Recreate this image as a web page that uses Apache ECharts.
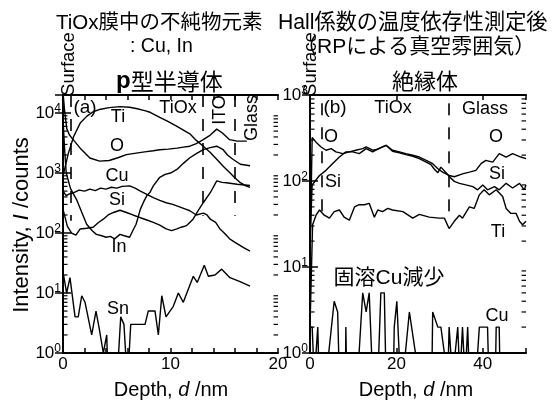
<!DOCTYPE html>
<html><head><meta charset="utf-8">
<script src="https://cdn.jsdelivr.net/npm/echarts@6/dist/echarts.min.js"></script>
<style>html,body{margin:0;padding:0;background:#fff}#c{width:555px;height:402px}</style>
</head><body><div id="c"></div>
<script>
// ---------- Panel (a): p-type semiconductor, depth 0-20 nm ----------
const tiA_d = [0, 0.5, 1.0, 1.6, 2.2, 2.8, 3.5, 4.3, 5.3, 6.2, 6.9, 7.6, 8.1, 9.0, 9.8, 10.6, 11.2, 11.8, 12.4, 13.05, 13.7, 14.3, 14.9, 15.5, 16.0, 16.5, 17.0, 17.4];
const tiA_v = [890, 2150, 4100, 6800, 8800, 10500, 11600, 12300, 12800, 12500, 11800, 11000, 10300, 8500, 7200, 6000, 5200, 4500, 3500, 2800, 2200, 1700, 1300, 1020, 830, 690, 610, 575];
const oA_d = [0, 0.15, 0.35, 0.6, 1.0, 1.6, 2.5, 3.4, 4.3, 5.1, 5.9, 6.8, 7.6, 8.4, 9.0, 9.8, 10.6, 11.2, 11.8, 12.4, 13.05, 13.7, 14.3, 14.8, 15.5, 16.2, 17.1];
const oA_v = [22000, 11000, 5500, 4300, 3500, 2600, 1780, 1580, 1620, 1800, 2030, 2150, 2250, 2350, 2450, 2500, 2600, 2700, 2800, 3100, 3600, 4300, 5400, 4700, 3600, 3400, 3400];
const inA_d = [0, 0.15, 0.3, 0.7, 1.3, 1.8, 2.2, 2.7, 3.1, 3.6, 4.0, 4.4, 4.8, 5.3, 5.7, 6.2, 6.5, 6.8, 7.2, 7.5, 7.8, 8.1, 8.4, 9.0, 9.5, 10.0, 10.6, 11.2, 11.8, 12.4, 13.05, 13.7, 14.3, 14.9, 15.3, 15.8, 16.5, 17.4];
const inA_v = [8000, 2500, 1000, 550, 350, 210, 140, 110, 95, 90, 85, 88, 80, 95, 90, 85, 110, 140, 250, 330, 420, 480, 610, 850, 950, 1000, 1150, 1450, 1800, 2100, 2450, 2650, 2800, 2450, 2000, 1700, 1400, 1320];
const cuA_d = [0, 0.3, 0.6, 1.0, 1.5, 2.0, 2.5, 3.0, 3.5, 4.0, 4.5, 5.0, 5.5, 6.2, 6.7, 7.2, 7.8, 8.4, 9.0, 9.6, 10.2, 10.9, 11.4, 11.8, 12.4, 13.05, 13.4, 13.7, 14.2, 14.6, 15.0, 15.5, 16.0, 16.8, 17.4];
const cuA_v = [500, 420, 450, 470, 520, 500, 540, 510, 560, 540, 580, 560, 600, 610, 560, 500, 440, 390, 350, 320, 300, 270, 250, 235, 200, 215, 200, 170, 150, 117, 100, 80, 70, 57, 50];
const siA_d = [0, 0.4, 0.8, 1.2, 1.6, 2.2, 2.8, 3.3, 3.75, 4.2, 4.7, 5.3, 5.9, 6.5, 7.2, 7.8, 8.4, 9.0, 9.6, 10.1, 10.6, 11.0, 11.5, 12.1, 12.6, 13.05, 13.7, 14.3, 14.8, 15.2, 16.2, 17.4];
const siA_v = [250, 130, 100, 92, 117, 120, 125, 150, 170, 200, 220, 240, 220, 200, 180, 165, 150, 135, 117, 110, 117, 125, 133, 170, 240, 320, 470, 740, 700, 690, 650, 620];
const snA_d = [0.03, 0.34, 0.65, 1.12, 1.42, 1.74, 2.05, 2.67, 3.07, 3.38, 3.75, 4.07, 4.2, 5.0, 5.37, 5.67, 6.0, 6.3, 7.63, 7.93, 8.56, 8.87, 9.19, 9.58, 10.26, 10.73, 11.19, 12.12, 12.49, 13.14, 13.52, 14.14, 14.76, 15.53, 16.47, 17.4];
const snA_v = [21, 10, 18, 4, 4, 9, 7, 2, 5, 2.5, 1, 2, 0.3, 0.3, 4, 3, 0.3, 3, 3, 5, 5, 2, 9, 4, 6, 10, 7, 19, 15, 29, 19, 20, 25, 18, 15.5, 13];
const boundsA = [0.7, 13.04, 16.0];           // Surface | TiOx | ITO | Glass (nm)
const boundsA_top = [20000, 20000, 20000];
const boundsA_bottom = [160, 195, 195];

// ---------- Panel (b): insulator, depth 0-50 nm ----------
const oB_d = [0, 0.5, 1.4, 2.5, 3.7, 4.9, 6.0, 7.6, 9.1, 10.6, 12.2, 13.0, 14.5, 15.7, 16.8, 17.6, 19.1, 20.7, 22.2, 23.8, 25.3, 26.9, 28.4, 29.6, 30.7, 32.2, 33.4, 35.3, 36.9, 38.4, 39.6, 40.7, 42.3, 43.8, 45.4, 46.9, 48.8, 50];
const oB_v = [12, 320, 283, 250, 228, 238, 218, 208, 218, 228, 238, 250, 228, 234, 250, 260, 228, 218, 208, 199, 190, 174, 159, 139, 127, 116, 112, 121, 127, 133, 159, 174, 166, 208, 190, 208, 190, 182];
const siB_d = [0, 0.5, 1.2, 2.2, 3.7, 5.2, 6.8, 8.3, 9.9, 11.4, 13.0, 14.5, 16.0, 17.6, 19.1, 20.7, 22.2, 23.8, 25.3, 26.9, 28.0, 28.8, 29.6, 30.3, 31.5, 32.6, 33.4, 34.6, 36.1, 37.7, 38.8, 40.0, 41.1, 42.7, 43.8, 45.4, 46.9, 48.5, 49.6, 50];
const siB_v = [20, 90, 100, 116, 133, 159, 190, 218, 218, 208, 238, 218, 240, 260, 222, 213, 203, 194, 182, 166, 155, 137, 125, 145, 125, 108, 99, 94, 90, 86, 79, 90, 79, 86, 79, 94, 83, 94, 79, 90];
const tiB_d = [0, 0.6, 1.4, 2.2, 3.3, 4.5, 5.6, 6.8, 7.9, 9.1, 10.3, 11.4, 12.6, 13.7, 14.9, 15.7, 16.8, 18.0, 19.1, 21.5, 23.8, 25.3, 27.6, 29.9, 31.1, 32.2, 33.4, 34.6, 35.3, 36.9, 38.0, 39.2, 40.3, 41.5, 43.1, 44.6, 45.4, 46.5, 47.7, 48.5, 49.2, 50];
const tiB_v = [2, 31, 40, 46, 40, 37, 44, 46, 38, 35, 50, 53, 53, 55, 38, 46, 44, 48, 46, 44, 37, 41, 38, 37, 37, 28, 34, 40, 37, 50, 48, 69, 79, 69, 79, 66, 48, 42, 42, 34, 31, 34];
const cuB_d = [0, 0.5, 1.0, 1.8, 2.1, 3.7, 5.6, 6.4, 6.8, 8.2, 8.3, 8.5, 11.0, 12.2, 13.0, 13.7, 14.5, 15.7, 16.4, 17.2, 17.6, 19.3, 19.5, 20.1, 20.9, 21.5, 23.0, 25.3, 28.2, 28.4, 29.6, 30.3, 31.9, 32.2, 33.0, 34.2, 34.7, 35.3, 35.9, 36.5, 36.9, 38.4, 39.2, 41.1, 41.4, 42.9, 43.1, 43.8, 44.0, 50];
const cuB_v = [2, 2, 0.5, 2, 0.5, 0.5, 4, 3, 0.5, 0.5, 2, 0.5, 0.5, 5, 3, 5, 0.5, 0.5, 5, 5, 0.5, 0.5, 2, 4, 0.5, 0.5, 3, 0.5, 0.5, 3, 2, 2, 0.5, 2, 0.5, 2, 0.5, 2, 0.5, 2, 0.5, 0.5, 2, 2, 0.5, 0.5, 2, 2, 0.5, 0.5];
const boundsB = [2.8, 32.2];                  // Surface | TiOx | Glass (nm)
const boundsB_top = [800, 800];
const boundsB_bottom = [42, 42];

// ---------- axis ticks ----------
const xTicksA = [0, 10, 20];
const xTicksB = [0, 20, 40];
const minorMultipliers = [2, 3, 4, 5, 6, 7, 8, 9];
const decadesA = [1, 10, 100, 1000];
const decadesB = [1, 10, 100];

const LAT = 'Liberation Sans';
const JP = '"Liberation Sans", "Noto Sans CJK JP"';
const zip = (d, v) => d.map((x, i) => [x, v[i]]);

function lineSeries(name, d, v, xi, yi, extra) {
  return Object.assign({
    name, type: 'line', xAxisIndex: xi, yAxisIndex: yi, data: zip(d, v),
    showSymbol: false, symbol: 'none', smooth: false, clip: true, animation: false,
    lineStyle: { color: '#000', width: 1.4 }
  }, extra || {});
}
function dashLines(bounds, tops, bottoms) {
  return {
    symbol: 'none', silent: true, animation: false, label: { show: false },
    lineStyle: { color: '#000', width: 1.6, type: [12, 12] },
    data: bounds.map((b, i) => [{ coord: [b, tops[i]] }, { coord: [b, bottoms[i]] }])
  };
}
function minorTicks(xi, yi, decades, xmin, xmax) {
  const vals = [];
  decades.forEach(d => minorMultipliers.forEach(m => vals.push(d * m)));
  return {
    type: 'custom', xAxisIndex: xi, yAxisIndex: yi, silent: true, animation: false, clip: false,
    data: vals.map(v => [xmin, v]), encode: { x: 0, y: 1 },
    renderItem: (params, api) => {
      const v = api.value(1);
      const a = api.coord([xmin, v]), b = api.coord([xmax, v]);
      return { type: 'group', children: [
        { type: 'line', shape: { x1: a[0], y1: a[1], x2: a[0] + 4.5, y2: a[1] }, style: { stroke: '#000', lineWidth: 1.2 } },
        { type: 'line', shape: { x1: b[0] - 4.5, y1: b[1], x2: b[0], y2: b[1] }, style: { stroke: '#000', lineWidth: 1.2 } }
      ]};
    }
  };
}
const axLine = { show: true, lineStyle: { color: '#000', width: 2 } };
const supRich = {
  b: { fontSize: 17, fontFamily: LAT, color: '#000', lineHeight: 20 },
  s: { fontSize: 12, fontFamily: LAT, color: '#000', lineHeight: 14, verticalAlign: 'top' }
};
const logFmt = v => {
  const e = Math.log10(v);
  if (Math.abs(e - Math.round(e)) > 0.01) return '';
  return '{b|10}{s|' + Math.round(e) + '}';
};
function xAx(grid, max, interval, labels, pos) {
  return {
    gridIndex: grid, type: 'value', min: 0, max, interval, position: pos,
    axisLine: axLine, splitLine: { show: false },
    axisTick: { show: true, inside: true, length: 5, lineStyle: { color: '#000', width: 1.5 } },
    axisLabel: pos === 'bottom' ? {
      show: true, margin: 3, color: '#000', fontSize: 17, fontFamily: LAT, showMaxLabel: true,
      formatter: v => labels.includes(v) ? String(v) : ''
    } : { show: false }
  };
}
function yAx(grid, max, pos) {
  return {
    gridIndex: grid, type: 'log', logBase: 10, min: 1, max, position: pos,
    axisLine: axLine, splitLine: { show: false }, minorTick: { show: false },
    axisTick: { show: true, inside: true, length: 8, lineStyle: { color: '#000', width: 1.5 } },
    axisLabel: pos === 'left' ? { show: true, margin: 2, formatter: logFmt, rich: supRich } : { show: false }
  };
}
function txt(text, x, y, size, opts) {
  opts = opts || {};
  return {
    type: 'text', x, y, rotation: opts.rot || 0, silent: true,
    style: Object.assign({
      text, fill: '#000', fontSize: size, fontFamily: opts.family || LAT,
      align: opts.align || 'center', verticalAlign: 'middle'
    }, opts.style || {})
  };
}
const R = Math.PI / 2;

const option = {
  animation: false,
  backgroundColor: '#fff',
  grid: [
    { left: 63, top: 95, width: 215, height: 258 },
    { left: 310, top: 95, width: 216, height: 258 }
  ],
  xAxis: [
    xAx(0, 20, 2, xTicksA, 'bottom'), xAx(0, 20, 2, xTicksA, 'top'),
    xAx(1, 50, 20, xTicksB, 'bottom'), xAx(1, 50, 20, xTicksB, 'top')
  ],
  yAxis: [
    yAx(0, 20000, 'left'), yAx(0, 20000, 'right'),
    yAx(1, 1000, 'left'), yAx(1, 1000, 'right')
  ],
  series: [
    lineSeries('Ti', tiA_d, tiA_v, 0, 0, { markLine: dashLines(boundsA, boundsA_top, boundsA_bottom) }),
    lineSeries('O', oA_d, oA_v, 0, 0),
    lineSeries('In', inA_d, inA_v, 0, 0),
    lineSeries('Cu', cuA_d, cuA_v, 0, 0),
    lineSeries('Si', siA_d, siA_v, 0, 0),
    lineSeries('Sn', snA_d, snA_v, 0, 0),
    lineSeries('O(b)', oB_d, oB_v, 2, 2, { markLine: dashLines(boundsB, boundsB_top, boundsB_bottom) }),
    lineSeries('Si(b)', siB_d, siB_v, 2, 2),
    lineSeries('Ti(b)', tiB_d, tiB_v, 2, 2),
    lineSeries('Cu(b)', cuB_d, cuB_v, 2, 2),
    minorTicks(0, 0, decadesA, 0, 20),
    minorTicks(2, 2, decadesB, 0, 50)
  ],
  graphic: [
    // headings
    txt('TiOx膜中の不純物元素', 56, 23, 20.5, { align: 'left', family: JP }),
    txt('Hall係数の温度依存性測定後', 278, 23, 21.2, { align: 'left', family: JP }),
    txt(': Cu, In', 130, 47, 19.5, { align: 'left', family: JP }),
    txt('（RPによる真空雰囲気）', 296, 47, 21, { align: 'left', family: JP }),
    txt('{p|p}{j|型半導体}', 116, 81, 23, { align: 'left', style: { rich: {
      p: { fontSize: 24, fontWeight: 'bold', fontFamily: LAT, fill: '#000' },
      j: { fontSize: 23, fontFamily: '"Noto Sans CJK JP"', fill: '#000' } } } }),
    txt('絶縁体', 392, 81, 22, { align: 'left', family: '"Noto Sans CJK JP"' }),
    txt('Surface', 69, 64, 18.5, { rot: R }),
    txt('Surface', 311, 64, 18.5, { rot: R }),
    // panel (a) labels
    txt('(a)', 85, 108, 19),
    txt('Ti', 118, 117, 18),
    txt('TiOx', 178, 108, 18),
    txt('ITO', 220, 110, 18, { rot: R }),
    txt('Glass', 252, 118, 18, { rot: R }),
    txt('O', 117, 146, 18),
    txt('Cu', 117, 176, 18),
    txt('Si', 117, 200, 18),
    txt('In', 119, 247, 18),
    txt('Sn', 118, 309, 18),
    // panel (b) labels
    txt('(b)', 335, 108, 19),
    txt('TiOx', 393, 108, 18),
    txt('Glass', 485, 109, 18),
    txt('O', 331, 137, 18),
    txt('O', 496, 137, 18),
    txt('Si', 333, 182, 18),
    txt('Si', 497, 174, 18),
    txt('Ti', 498, 232, 18),
    txt('固溶Cu減少', 389, 278, 21, { family: JP }),
    txt('Cu', 497, 316, 18),
    // axis titles
    txt('{n|Depth, }{i|d}{n| /nm}', 171, 390, 20, { style: { rich: {
      n: { fontSize: 20, fontFamily: LAT, fill: '#000' },
      i: { fontSize: 20, fontFamily: LAT, fontStyle: 'italic', fill: '#000' } } } }),
    txt('{n|Depth, }{i|d}{n| /nm}', 416, 390, 20, { style: { rich: {
      n: { fontSize: 20, fontFamily: LAT, fill: '#000' },
      i: { fontSize: 20, fontFamily: LAT, fontStyle: 'italic', fill: '#000' } } } }),
    txt('{n|Intensity, }{i|I}{n| /counts}', 22, 225, 22, { rot: R, style: { rich: {
      n: { fontSize: 22, fontFamily: LAT, fill: '#000' },
      i: { fontSize: 22, fontFamily: LAT, fontStyle: 'italic', fill: '#000' } } } })
  ]
};
const chart = echarts.init(document.getElementById('c'), null, { renderer: 'canvas' });
chart.setOption(option);
</script>
</body></html>
